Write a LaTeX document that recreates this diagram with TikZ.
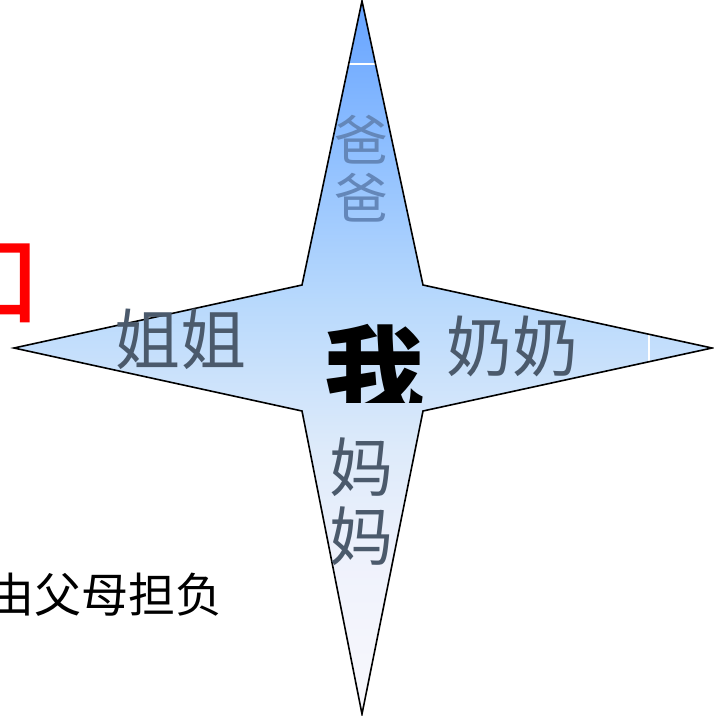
\documentclass[tikz,border=0pt]{standalone}
\usepackage{fontspec}
\newfontfamily\cjk{Noto Sans CJK SC}
\newfontfamily\cjkheavy[FakeBold=2]{Noto Sans CJK SC}
\pgfdeclareverticalshading{starshade}{100bp}{%
  rgb(0bp)=(0.97,0.97,0.99);
  rgb(26bp)=(0.97,0.97,0.99);
  rgb(35bp)=(0.94,0.95,0.99);
  rgb(43.5bp)=(0.87,0.92,0.98);
  rgb(54bp)=(0.72,0.85,0.99);
  rgb(64.5bp)=(0.56,0.75,1.0);
  rgb(75bp)=(0.40,0.64,1.0);
  rgb(100bp)=(0.40,0.64,1.0)}
\definecolor{dadcol}{RGB}{100,135,185}
\definecolor{famcol}{RGB}{75,90,108}
\tikzset{
  famtext/.style={font=\cjk, text=famcol, inner sep=0pt},
  startext/.style={align=center, font=\fontsize{58}{62}\selectfont\cjk, inner sep=0pt}
}
\begin{document}
\begin{tikzpicture}[x=1pt,y=-1pt]
\useasboundingbox (0,0) rectangle (714,716);
% star
\coordinate (T) at (362,1);
\coordinate (R) at (712,348);
\coordinate (B) at (362,714);
\coordinate (L) at (14,348);
\coordinate (ur) at (423,285);
\coordinate (lr) at (423,411);
\coordinate (ll) at (302,411);
\coordinate (ul) at (302,285);
\path[shading=starshade] (T) -- (ur) -- (R) -- (lr) -- (B) -- (ll) -- (L) -- (ul) -- cycle;
% white artifacts
\draw[white, line width=2pt] (346,64) -- (379,64);
\draw[white, line width=2pt] (649,332) -- (649,363);
\draw[line width=1.6pt, line join=miter] (T) -- (ur) -- (R) -- (lr) -- (B) -- (ll) -- (L) -- (ul) -- cycle;
% texts
\node[startext, text=dadcol, font=\fontsize{54}{58}\selectfont\cjk] (dad) at (361,169) {爸\\爸};
\node[famtext, font=\fontsize{66}{66}\selectfont\cjk] (sis) at (180,339) {姐姐};
\node[famtext, font=\fontsize{66}{66}\selectfont\cjk] (gma) at (512,346) {奶奶};
\node[startext, text=famcol, font=\fontsize{64}{69}\selectfont\cjk] (mom) at (361,502) {妈\\妈};
\begin{scope}
\clip (0,0) rectangle (423,402);
\node[font=\fontsize{100}{100}\selectfont\cjk\bfseries, inner sep=0pt] (me) at (374,372) {我};
\end{scope}
\node[font=\fontsize{98}{98}\selectfont\cjkheavy, text=red, inner sep=0pt, anchor=east] (red) at (41,283) {口};
\node[font=\fontsize{47}{47}\selectfont\cjk, inner sep=0pt, anchor=west] (duty) at (-13,595) {由父母担负};
\end{tikzpicture}
\end{document}
